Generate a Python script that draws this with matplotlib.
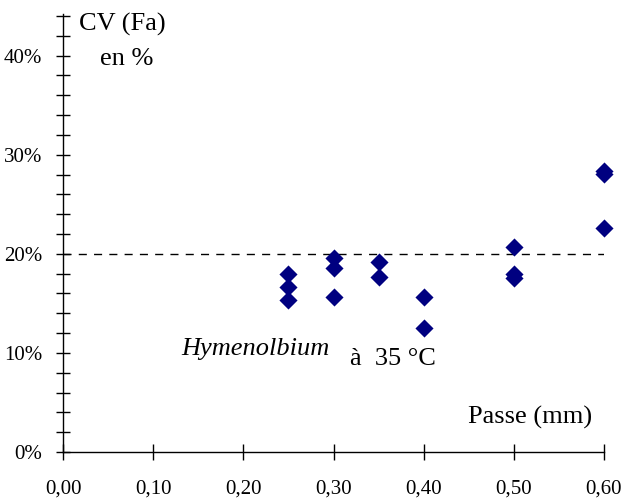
import matplotlib
matplotlib.use("Agg")
import matplotlib.pyplot as plt
from matplotlib.ticker import MultipleLocator, FuncFormatter

plt.rcParams['font.family'] = ['Liberation Serif', 'DejaVu Serif']

passe = [0.25, 0.25, 0.25, 0.30, 0.30, 0.30, 0.35, 0.35, 0.40, 0.40,
         0.50, 0.50, 0.50, 0.60, 0.60, 0.60]
cv = [18.0, 16.7, 15.3, 19.6, 18.6, 15.6, 19.2, 17.7, 15.6, 12.5,
      20.7, 18.0, 17.6, 28.4, 28.1, 22.6]
threshold = 20.0
xticks = [0.0, 0.1, 0.2, 0.3, 0.4, 0.5, 0.6]

fig = plt.figure(figsize=(6.25, 5), dpi=100)
ax = fig.add_axes([63/625, 48/500, (604-63)/625, (452-14)/500])

ax.scatter(passe, [v/100 for v in cv], marker='D', s=85, color='#000080',
           edgecolors='#000080', linewidths=0, zorder=3, clip_on=False)
ax.axhline(threshold/100, color='black', lw=1.0, ls=(0, (5.8, 5.2)), zorder=2)

ax.set_xlim(0, 0.6)
ax.set_ylim(0, 0.442)
for s in ['top', 'right']:
    ax.spines[s].set_visible(False)
ax.spines['left'].set_linewidth(1.0)
ax.spines['bottom'].set_linewidth(1.0)

ax.set_xticks(xticks)
ax.xaxis.set_major_formatter(FuncFormatter(lambda v, p: f"{v:.2f}".replace('.', ',')))
ax.yaxis.set_major_locator(MultipleLocator(0.10))
ax.yaxis.set_minor_locator(MultipleLocator(0.02))
ax.yaxis.set_major_formatter(FuncFormatter(lambda v, p: f"{v*100:.0f}%"))
ax.tick_params(axis='x', which='major', direction='inout', length=11, width=1,
               labelsize=15, pad=14)
ax.tick_params(axis='y', which='both', direction='inout', length=10, width=1,
               labelsize=15, pad=10)

fig.text(79/625, 1-31/500, "CV (Fa)", fontsize=19, va='baseline', ha='left')
fig.text(100/625, 1-65/500, "en %", fontsize=19, va='baseline', ha='left')
fig.text(468/625, 1-424/500, "Passe (mm)", fontsize=19, va='baseline', ha='left')
fig.text(181/625, 1-355/500, "Hymenolbium", fontsize=19, style='italic',
         va='baseline', ha='left')
fig.text(350/625, 1-365/500, "à  35 °C", fontsize=19, va='baseline', ha='left')

fig.savefig("out.png", dpi=100)
